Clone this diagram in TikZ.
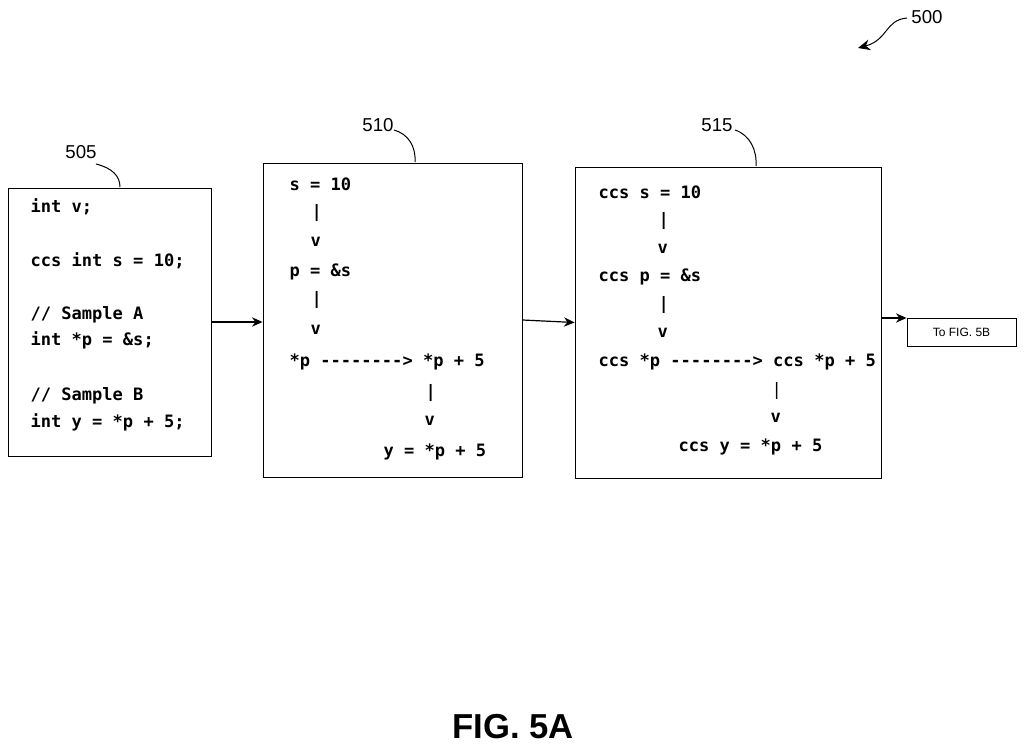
\documentclass[tikz,border=0pt]{standalone}
\usepackage{fontspec}
\setmainfont{Liberation Sans}
\newfontfamily\codefont{DejaVu Sans Mono}
\usetikzlibrary{arrows.meta}
\tikzset{every picture/.style={line width=0.75pt},
  box/.style={draw, line width=0.6pt, inner sep=0pt},
  code/.style={anchor=west, inner sep=0pt, font=\codefont\bfseries\fontsize{12.8}{14}\selectfont},
  refnum/.style={inner sep=0pt, font=\fontsize{14}{16}\selectfont},
  flow/.style={-{Stealth[length=8pt,width=7pt]}, line width=0.9pt}}
\begin{document}
\begin{tikzpicture}[x=0.75pt,y=0.75pt,yscale=-1,xscale=1]
\useasboundingbox (0,0) rectangle (1024,748);

%Boxes
\node (b505) [box, minimum width=152.25pt, minimum height=201pt] at (109.5,322) {};
\node (b510) [box, minimum width=194.25pt, minimum height=235.5pt] at (392.5,320) {};
\node (b515) [box, minimum width=229.5pt, minimum height=233.25pt] at (728,322.5) {};
\node (b5b) [box, minimum width=81.75pt, minimum height=21pt, font=\fontsize{9}{11}\selectfont] at (961.5,332) {To FIG. 5B};

%Connectors
\coordinate (c1) at (881,318);
\draw [flow] (b505.east) -- (b510.west |- b505.east);
\draw [flow] (b510.east) -- (b515.west);
\draw [flow] (c1) -- (b5b.west |- c1);

%Reference numerals
\node (n505) [refnum] at (81,152) {505};
\node (n510) [refnum] at (378,125) {510};
\node (n515) [refnum] at (717,125) {515};
\node (n500) [refnum] at (927,17) {500};
\coordinate (t505) at (120,187);
\coordinate (t510) at (415,162);
\coordinate (t515) at (756,166);
\coordinate (t500) at (858,48);
\draw (96,164) .. controls (112,168) and (120,176) .. (t505);
\draw (394,130) .. controls (408,134) and (416,146) .. (t510);
\draw (735,130) .. controls (750,135) and (757,150) .. (t515);
\draw [-{Stealth[length=9pt,width=8pt]}] (907,18) .. controls (885,20) and (888,40) .. (t500);

%Code 505
\node (a1) [code] at (30,207) {int v;};
\node (a2) [code] at (30,261) {ccs int s = 10;};
\node (a3) [code] at (30,315) {// Sample A};
\node (a4) [code] at (30,340) {int *p = \&s;};
\node (a5) [code] at (30,396) {// Sample B};
\node (a6) [code] at (30,422) {int y = *p + 5;};

%Code 510
\node (p1) [code] at (289,184) {s = 10};
\node (p2) [code] at (311,213) {|};
\node (p3) [code] at (310,242) {v};
\node (p4) [code] at (289,272) {p = \&s};
\node (p5) [code] at (311,300) {|};
\node (p6) [code] at (310,330) {v};
\node (p7) [code] at (289,362) {*p --------> *p + 5};
\node (p8) [code] at (425,393) {|};
\node (p9) [code] at (424,421) {v};
\node (p10) [code] at (383,452) {y = *p + 5};

%Code 515
\node (q1) [code] at (598,192) {ccs s = 10};
\node (q2) [code] at (658,221) {|};
\node (q3) [code] at (657,249) {v};
\node (q4) [code] at (598,277) {ccs p = \&s};
\node (q5) [code] at (658,305) {|};
\node (q6) [code] at (657,333) {v};
\node (q7) [code] at (598,362) {ccs *p --------> ccs *p + 5};
\node (q8) [code, font=\codefont\fontsize{12.8}{14}\selectfont] at (771,391) {|};
\node (q9) [code] at (770,418) {v};
\node (q10) [code] at (678,447) {ccs y = *p + 5};

\node (fig) [inner sep=0pt, font=\bfseries\fontsize{26}{30}\selectfont] at (513,727) {FIG. 5A};
\end{tikzpicture}
\end{document}
